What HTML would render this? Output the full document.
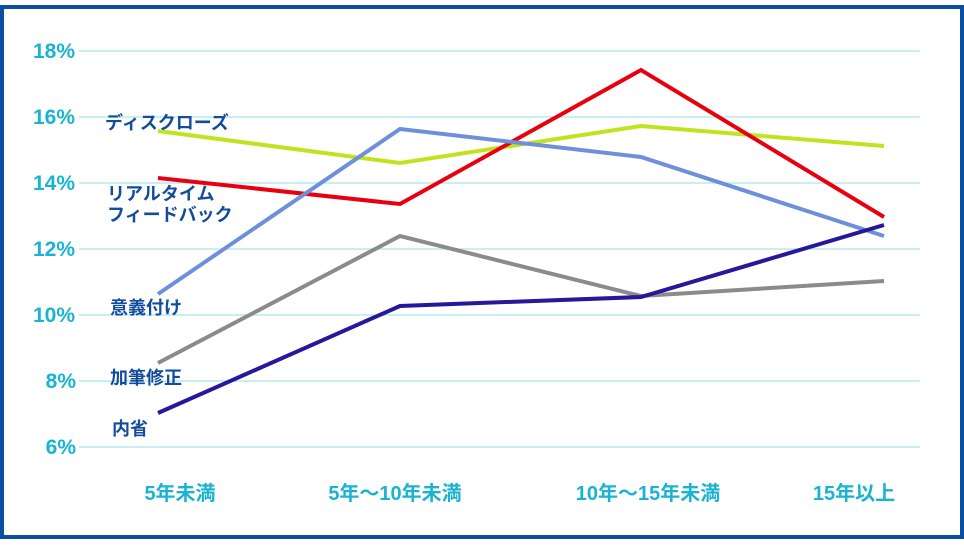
<!DOCTYPE html>
<html>
<head>
<meta charset="utf-8">
<style>
  html, body { margin: 0; padding: 0; background: #ffffff; }
  body { width: 964px; height: 546px; overflow: hidden; }
  svg { display: block; }
  .yl { font-family: "Liberation Sans", "Noto Sans CJK JP", sans-serif; font-size: 21px; font-weight: bold; fill: #1ab3d2; }
  .xl { font-family: "Liberation Sans", "Noto Sans CJK JP", sans-serif; font-size: 20px; font-weight: bold; fill: #1ab3d2; }
  .sl { font-family: "Liberation Sans", "Noto Sans CJK JP", sans-serif; font-size: 18px; font-weight: bold; fill: #134c9c; }
</style>
</head>
<body>
<svg width="964" height="546" viewBox="0 0 964 546" xmlns="http://www.w3.org/2000/svg">
  <rect x="0" y="0" width="964" height="546" fill="#ffffff"/>
  <!-- frame -->
  <rect x="2" y="7" width="960" height="530" fill="none" stroke="#0b4fa3" stroke-width="4"/>

  <!-- gridlines -->
  <g stroke="#b5ecf0" stroke-width="1.5">
    <line x1="79" y1="51" x2="920" y2="51"/>
    <line x1="79" y1="117" x2="920" y2="117"/>
    <line x1="79" y1="183" x2="920" y2="183"/>
    <line x1="79" y1="249" x2="920" y2="249"/>
    <line x1="79" y1="315" x2="920" y2="315"/>
    <line x1="79" y1="381" x2="920" y2="381"/>
    <line x1="79" y1="447" x2="920" y2="447"/>
  </g>

  <!-- y labels -->
  <g text-anchor="end">
    <text class="yl" x="75" y="58">18%</text>
    <text class="yl" x="75" y="124">16%</text>
    <text class="yl" x="75" y="190">14%</text>
    <text class="yl" x="75" y="256">12%</text>
    <text class="yl" x="75" y="322">10%</text>
    <text class="yl" x="76" y="388">8%</text>
    <text class="yl" x="76" y="454">6%</text>
  </g>

  <!-- x labels -->
  <g text-anchor="middle">
    <text class="xl" x="180" y="500">5年未満</text>
    <text class="xl" x="395" y="500">5年～10年未満</text>
    <text class="xl" x="648" y="500">10年～15年未満</text>
    <text class="xl" x="854" y="500">15年以上</text>
  </g>

  <!-- series -->
  <g fill="none" stroke-width="4" stroke-linejoin="miter" stroke-linecap="butt">
    <polyline stroke="#bfe41e" points="158,131 400,163 641,126 884,146"/>
    <polyline stroke="#e8000f" points="158,178 400,204 641,70 884,217"/>
    <polyline stroke="#6e8fd9" points="158,294 400,129 641,157 884,236"/>
    <polyline stroke="#8b8b8b" points="158,363 400,236 641,296 884,281"/>
    <polyline stroke="#26179b" points="158,413 400,306 641,297 884,225"/>
  </g>

  <!-- series labels -->
  <text class="sl" x="105" y="129">ディスクローズ</text>
  <text class="sl" x="107" y="200">リアルタイム</text>
  <text class="sl" x="107" y="221">フィードバック</text>
  <text class="sl" x="110" y="314">意義付け</text>
  <text class="sl" x="110" y="384">加筆修正</text>
  <text class="sl" x="112" y="435">内省</text>
</svg>
</body>
</html>
